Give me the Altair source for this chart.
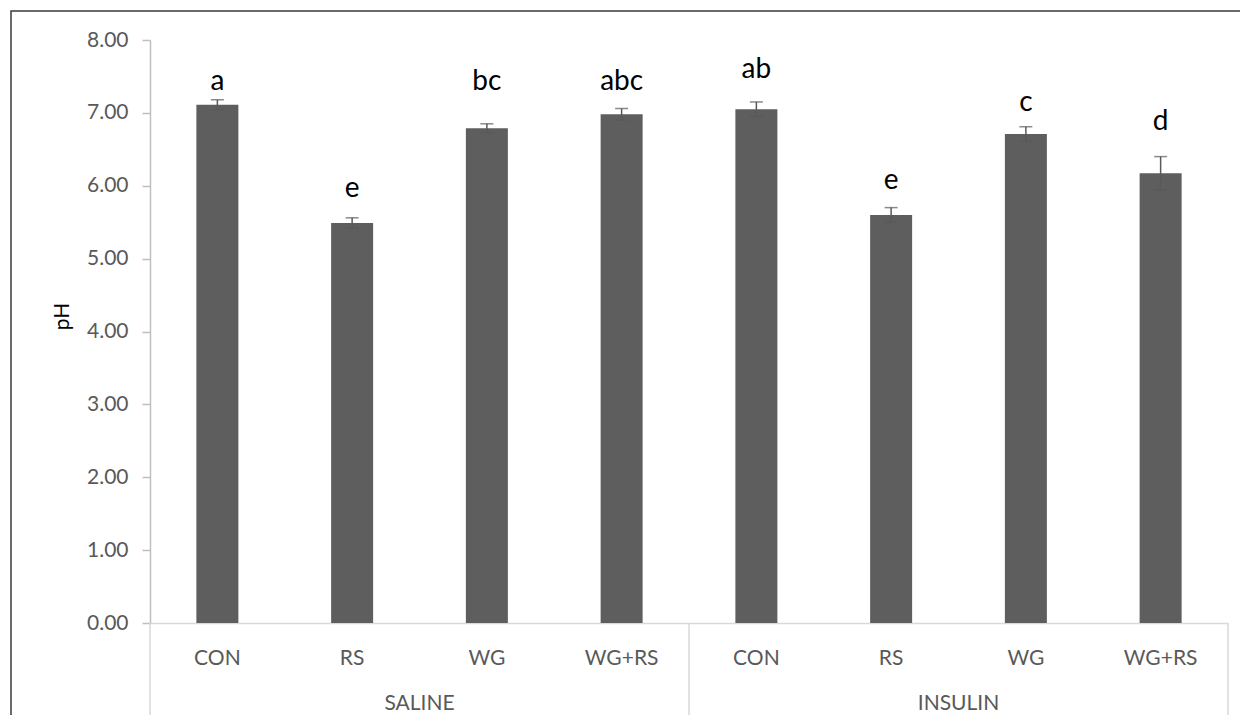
import altair as alt
import pandas as pd

groups = ["SALINE"] * 4 + ["INSULIN"] * 4
treatments = ["CON", "RS", "WG", "WG+RS"] * 2
means = [7.11, 5.49, 6.79, 6.98, 7.05, 5.60, 6.71, 6.17]
errs = [0.07, 0.07, 0.06, 0.08, 0.10, 0.10, 0.10, 0.23]
letters = ["a", "e", "bc", "abc", "ab", "e", "c", "d"]
letter_y = [7.42, 5.95, 7.42, 7.42, 7.59, 6.07, 7.13, 6.87]

keys = [f"{g}|{t}" for g, t in zip(groups, treatments)]
df = pd.DataFrame({
    "key": keys, "group": groups, "treatment": treatments,
    "mean": means, "err": errs, "letter": letters, "ly": letter_y,
})
df["lo"] = df["mean"] - df["err"]
df["hi"] = df["mean"] + df["err"]

FONT = "Lato"
W, H = 1078, 583

xscale = alt.Scale(domain=keys, paddingInner=0, paddingOuter=0)
yscale = alt.Scale(domain=[0, 8])

xenc = alt.X(
    "key:N", scale=xscale, sort=keys, title=None,
    axis=alt.Axis(
        labelExpr="split(datum.value, '|')[1]", labelAngle=0, ticks=False,
        domainColor="#d9d9d9", domainWidth=1.5, labelColor="#595959",
        labelFontSize=21, labelFont=FONT, labelPadding=24,
    ),
)
yenc = alt.Y(
    "mean:Q", scale=yscale, title="pH",
    axis=alt.Axis(
        values=[0, 1, 2, 3, 4, 5, 6, 7, 8], format=".2f", grid=False,
        domainColor="#bfbfbf", domainWidth=1.5, tickColor="#bfbfbf", tickSize=8,
        tickWidth=1.5, labelColor="#595959", labelFontSize=21, labelFont=FONT,
        labelPadding=14, titleColor="#000000", titleFontSize=21, titleFont=FONT,
        titleFontWeight="normal", titleX=-88, titleY=276, titleAngle=-90,
        titleBaseline="middle",
    ),
)

base = alt.Chart(df)

bars = base.mark_bar(size=42, color="#5e5e5e").encode(x=xenc, y=yenc)

err_rule = base.mark_rule(color="#595959", strokeWidth=1.5).encode(
    x=alt.X("key:N", scale=xscale, sort=keys), y="lo:Q", y2="hi:Q"
)
cap_hi = base.mark_tick(color="#595959", size=13, thickness=1.5).encode(
    x=alt.X("key:N", scale=xscale, sort=keys), y=alt.Y("hi:Q")
)
cap_lo = base.mark_tick(color="#595959", size=13, thickness=1.5).encode(
    x=alt.X("key:N", scale=xscale, sort=keys), y=alt.Y("lo:Q")
)

labels = base.mark_text(
    font=FONT, fontSize=28, color="#000000", baseline="middle", align="center"
).encode(
    x=alt.X("key:N", scale=xscale, sort=keys), y=alt.Y("ly:Q"), text="letter:N"
)

con_df = df[df["treatment"] == "CON"]
sep_start = alt.Chart(con_df).mark_rule(color="#d9d9d9", strokeWidth=1.5).encode(
    x=alt.X("key:N", scale=xscale, sort=keys, bandPosition=0),
    y=alt.value(H), y2=alt.value(H + 93),
)
last_df = df[df["key"] == keys[-1]]
sep_end = alt.Chart(last_df).mark_rule(color="#d9d9d9", strokeWidth=1.5).encode(
    x=alt.X("key:N", scale=xscale, sort=keys, bandPosition=1),
    y=alt.value(H), y2=alt.value(H + 93),
)
mid_df = df[df["treatment"] == "RS"]
group_labels = alt.Chart(mid_df).mark_text(
    font=FONT, fontSize=21, color="#595959", baseline="middle", align="center"
).encode(
    x=alt.X("key:N", scale=xscale, sort=keys, bandPosition=1),
    y=alt.value(H + 81), text="group:N",
)

border = alt.Chart(df.head(1)).mark_rect(
    fill=None, stroke="#3a3a3a", strokeWidth=1.5, filled=False
).encode(
    x=alt.value(-139), x2=alt.value(W + 40), y=alt.value(-29), y2=alt.value(H + 200)
)

chart = alt.layer(
    border, bars, err_rule, cap_hi, cap_lo, labels, sep_start, sep_end, group_labels
).properties(
    width=W, height=H,
    autosize=alt.AutoSizeParams(type="none"),
    padding={"left": 142, "top": 32, "right": 12, "bottom": 92},
    background="white",
).configure_view(stroke=None)

chart.save("out.html", embed_options={"renderer": "svg", "actions": False})
